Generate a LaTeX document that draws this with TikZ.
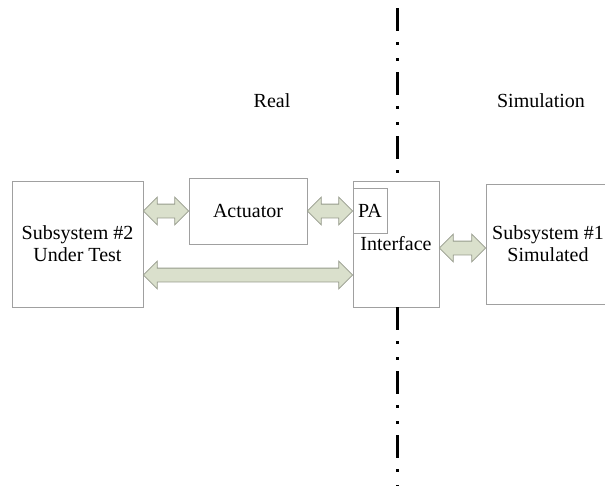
\documentclass[tikz,border=0pt]{standalone}
\usepackage{fontspec}
\setmainfont{Liberation Serif}
\newfontfamily\diagfont{Liberation Serif}
\usetikzlibrary{shapes.arrows,calc}
\definecolor{boxline}{RGB}{160,160,160}
\definecolor{arrfill}{RGB}{218,224,204}
\definecolor{arrline}{RGB}{150,155,140}
\tikzset{
  blockbox/.style={draw=boxline, line width=0.8pt, fill=white, inner sep=0pt, align=center},
  dbl/.style={double arrow, draw=arrline, fill=arrfill, line width=0.8pt, inner sep=0pt,
    text height=6.5pt, text depth=6.5pt, text width=0pt,
    double arrow head extend=7pt},
  dashdotline/.style={line width=3pt, line cap=butt,
    dash pattern=on 23pt off 11pt on 2.5pt off 13.5pt on 2.5pt off 11.5pt},
  lbl/.style={inner sep=0pt},
  every node/.style={font=\diagfont\fontsize{20}{22}\selectfont}
}
\begin{document}
\begin{tikzpicture}[x=1pt,y=-1pt]
\useasboundingbox (0,0) rectangle (605,485);
% boxes
\node[blockbox, minimum width=131pt, minimum height=126pt] (L) at (77.5,244) {Subsystem \#2\\Under Test};
\node[blockbox, minimum width=118pt, minimum height=66pt] (A) at (248,211) {Actuator};
\node[blockbox, minimum width=86pt, minimum height=126pt] (I) at (396,244) {Interface};
\node[blockbox, minimum width=34pt, minimum height=45pt] (P) at (370,210.5) {PA};
\node[blockbox, minimum width=124pt, minimum height=120pt] (R) at (548,244) {Subsystem \#1\\Simulated};
% labels
\node[lbl] (real) at (272,101) {Real};
\node[lbl] (sim) at (541,101) {Simulation};
% boundary line
\coordinate (top) at (397,8);
\coordinate (bot) at (397,486);
\draw[dashdotline] (top) -- (top |- I.north);
\draw[dashdotline] (top |- I.south) -- (bot);
% arrows
\path let \p1=(L.east), \p2=(A.west) in
  node[dbl, minimum height=\x2-\x1] (a1) at ($(L.east |- A.west)!.5!(A.west)$) {};
\path let \p1=(L.east), \p2=(I.west) in
  node[dbl, minimum height=\x2-\x1] (a2) at ($(L.east)!.5!(I.west)+(0,31)$) {};
\path let \p1=(A.east), \p2=(I.west) in
  node[dbl, minimum height=\x2-\x1] (a3) at ($(A.east)!.5!(A.east -| I.west)$) {};
\path let \p1=(I.east), \p2=(R.west) in
  node[dbl, minimum height=\x2-\x1] (a4) at ($(I.east)!.5!(R.west)+(0,4)$) {};
\end{tikzpicture}
\end{document}
